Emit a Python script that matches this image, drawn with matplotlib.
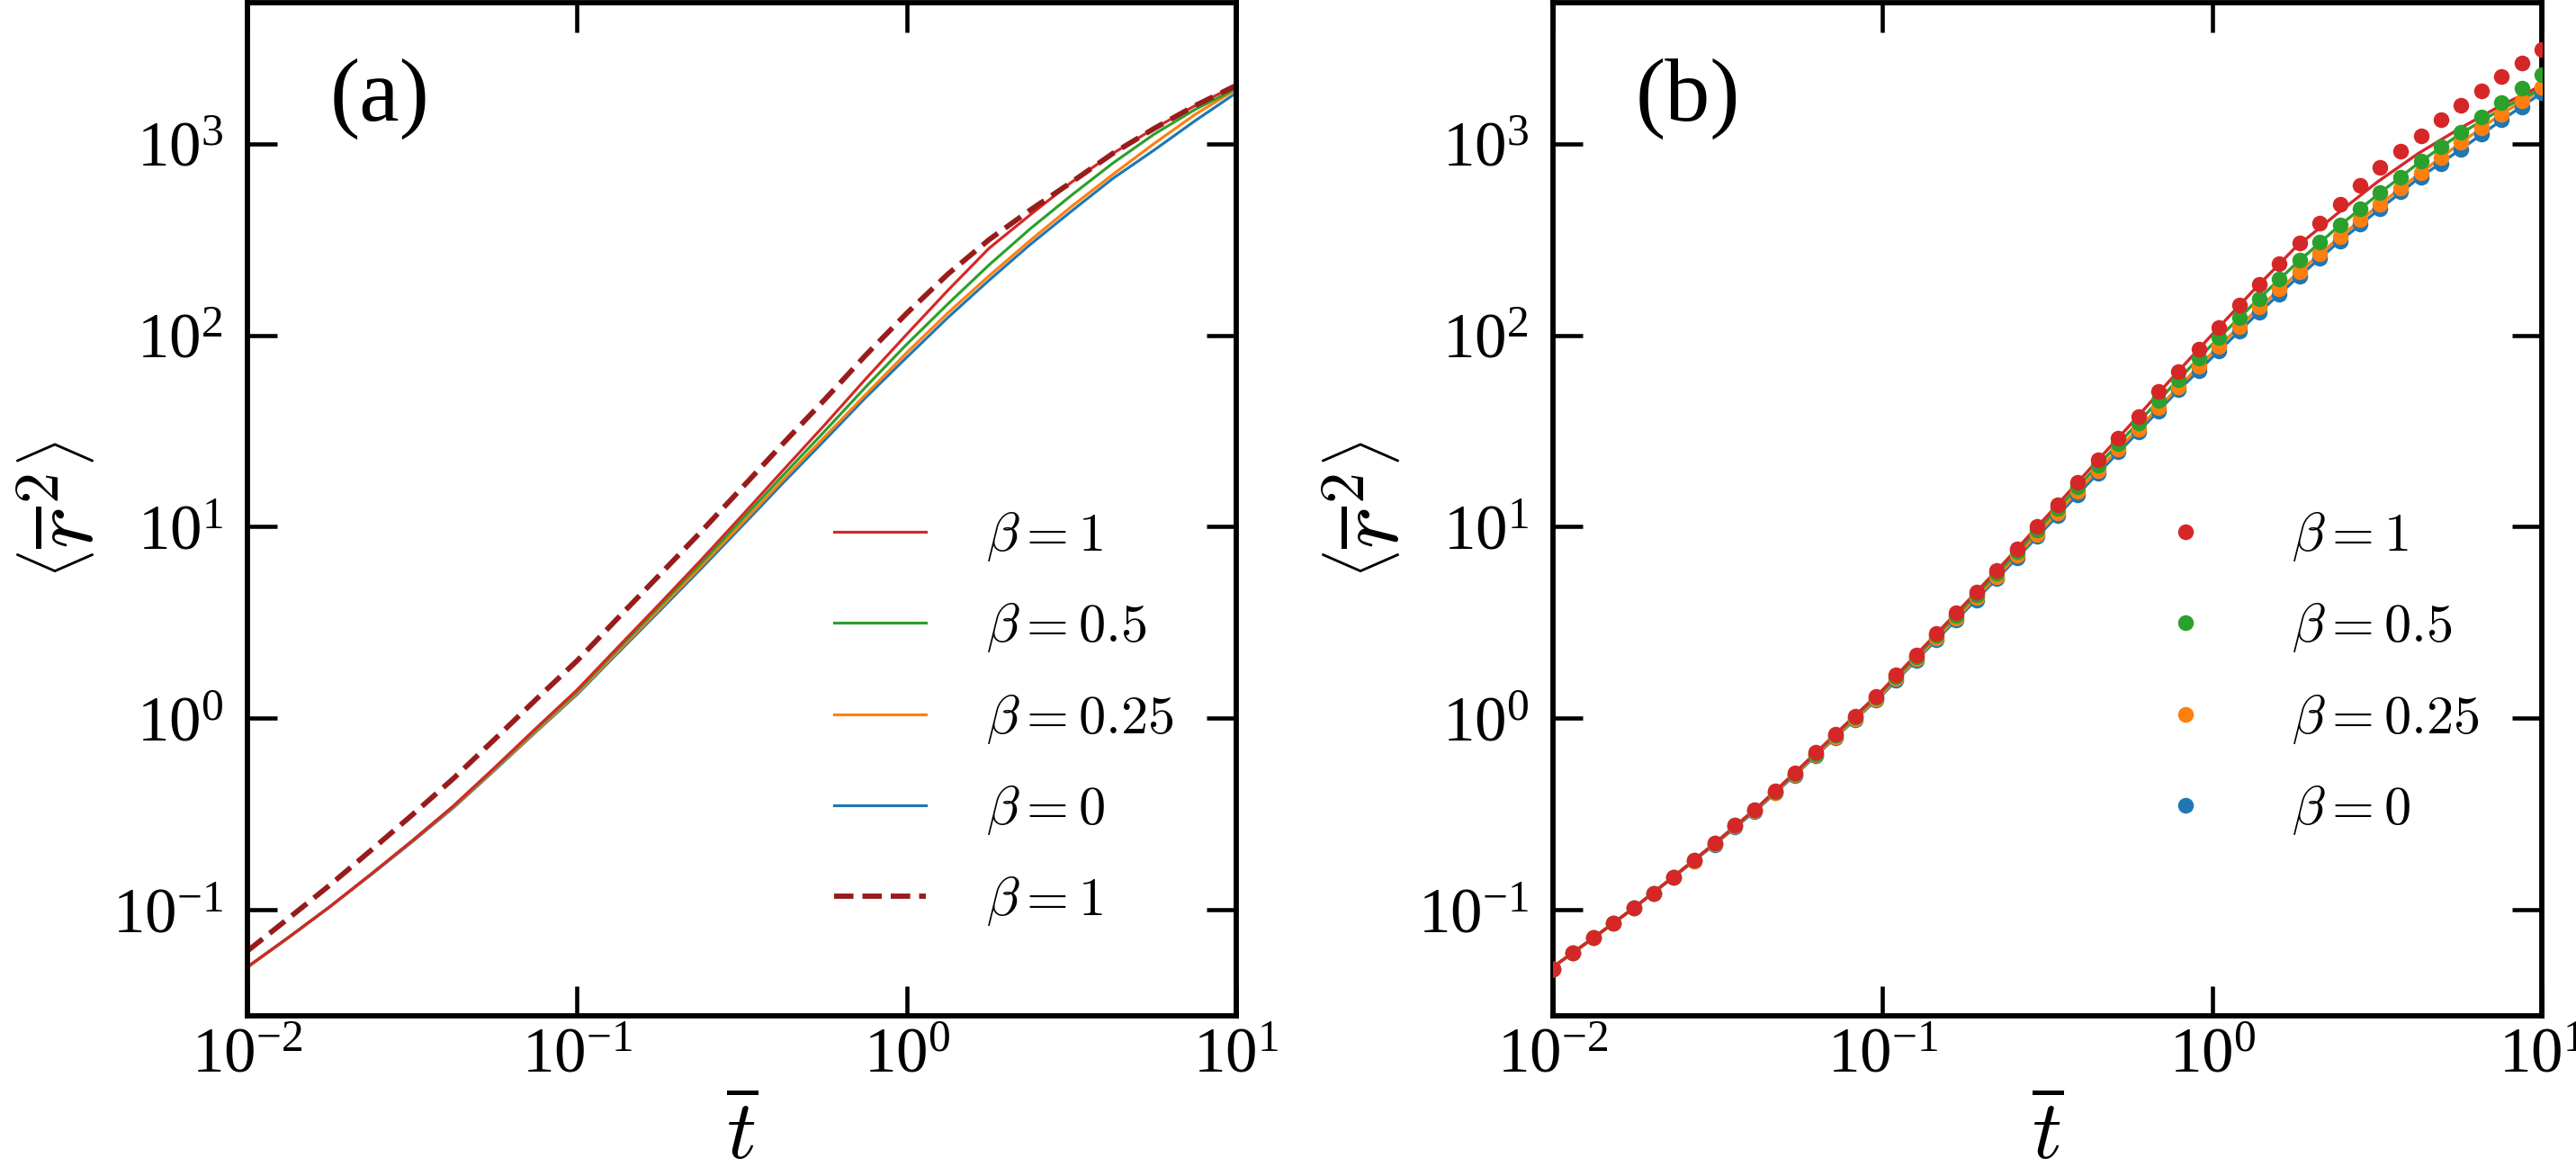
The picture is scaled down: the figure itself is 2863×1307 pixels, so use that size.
import numpy as np
import matplotlib
matplotlib.use('Agg')
import matplotlib.pyplot as plt
from matplotlib.lines import Line2D

plt.rcParams['font.family'] = 'serif'
plt.rcParams['font.serif'] = ['Liberation Serif', 'DejaVu Serif']
plt.rcParams['mathtext.fontset'] = 'cm'

# curves, stored as log10 values
log_t_line = [-2.0, -1.875, -1.75, -1.625, -1.5, -1.375, -1.25, -1.125, -1.0, -0.875, -0.75, -0.625,
              -0.5, -0.375, -0.25, -0.125, 0.0, 0.125, 0.25, 0.375, 0.5, 0.625, 0.75, 0.875, 1.0]
line_b1 = [-1.300, -1.145, -0.985, -0.815, -0.640, -0.458, -0.258, -0.053, 0.148, 0.373, 0.597, 0.824,
           1.058, 1.295, 1.530, 1.771, 2.005, 2.235, 2.455, 2.630, 2.800, 2.950, 3.080, 3.200, 3.306]
line_b05 = [-1.300, -1.145, -0.985, -0.815, -0.641, -0.460, -0.262, -0.059, 0.140, 0.363, 0.585, 0.808,
            1.038, 1.269, 1.497, 1.729, 1.953, 2.164, 2.368, 2.557, 2.732, 2.899, 3.050, 3.180, 3.290]
line_b025 = [-1.300, -1.145, -0.985, -0.815, -0.643, -0.464, -0.268, -0.067, 0.130, 0.351, 0.570, 0.791,
             1.017, 1.245, 1.468, 1.690, 1.909, 2.117, 2.311, 2.496, 2.673, 2.840, 3.001, 3.154, 3.285]
line_b0 = [-1.300, -1.145, -0.985, -0.818, -0.646, -0.468, -0.272, -0.072, 0.124, 0.343, 0.560, 0.779,
           1.003, 1.229, 1.450, 1.674, 1.885, 2.093, 2.288, 2.475, 2.649, 2.819, 2.967, 3.121, 3.267]
line_dash = [-1.216, -1.045, -0.872, -0.690, -0.505, -0.315, -0.110, 0.097, 0.300, 0.525, 0.748, 0.972,
             1.203, 1.435, 1.662, 1.895, 2.115, 2.320, 2.500, 2.655, 2.800, 2.950, 3.080, 3.200, 3.306]

log_t_pts = [-2.0, -1.939, -1.878, -1.816, -1.755, -1.694, -1.633, -1.571, -1.510, -1.449,
             -1.388, -1.327, -1.265, -1.204, -1.143, -1.082, -1.020, -0.959, -0.898, -0.837,
             -0.776, -0.714, -0.653, -0.592, -0.531, -0.469, -0.408, -0.347, -0.286, -0.224,
             -0.163, -0.102, -0.041, 0.020, 0.082, 0.143, 0.204, 0.265, 0.327, 0.388,
             0.449, 0.510, 0.571, 0.633, 0.694, 0.755, 0.816, 0.878, 0.939, 1.0]
pts_b1 = [-1.309, -1.228, -1.148, -1.070, -0.990, -0.916, -0.830, -0.744, -0.654, -0.560,
          -0.478, -0.380, -0.285, -0.180, -0.083, 0.012, 0.116, 0.225, 0.332, 0.443,
          0.551, 0.659, 0.772, 0.886, 1.001, 1.117, 1.232, 1.348, 1.465, 1.577,
          1.706, 1.811, 1.929, 2.043, 2.157, 2.267, 2.376, 2.483, 2.585, 2.687,
          2.784, 2.878, 2.961, 3.044, 3.125, 3.204, 3.279, 3.352, 3.423, 3.494]
pts_b05 = [-1.309, -1.228, -1.148, -1.070, -0.990, -0.916, -0.830, -0.744, -0.654, -0.560,
           -0.480, -0.383, -0.289, -0.185, -0.089, 0.005, 0.108, 0.216, 0.322, 0.432,
           0.539, 0.645, 0.757, 0.869, 0.982, 1.096, 1.208, 1.321, 1.434, 1.543,
           1.660, 1.770, 1.880, 1.989, 2.094, 2.193, 2.295, 2.392, 2.486, 2.577,
           2.663, 2.746, 2.828, 2.909, 2.984, 3.063, 3.141, 3.216, 3.290, 3.363]
pts_b025 = [-1.309, -1.228, -1.148, -1.070, -0.990, -0.916, -0.830, -0.745, -0.657, -0.564,
            -0.484, -0.387, -0.295, -0.192, -0.096, -0.003, 0.099, 0.206, 0.311, 0.420,
            0.525, 0.630, 0.741, 0.851, 0.962, 1.074, 1.184, 1.295, 1.406, 1.512,
            1.621, 1.731, 1.841, 1.943, 2.045, 2.147, 2.241, 2.334, 2.428, 2.514,
            2.605, 2.687, 2.768, 2.851, 2.929, 3.008, 3.086, 3.157, 3.227, 3.298]
pts_b0 = [-1.309, -1.228, -1.148, -1.070, -0.990, -0.917, -0.833, -0.748, -0.660, -0.568,
          -0.488, -0.391, -0.298, -0.196, -0.101, -0.009, 0.093, 0.199, 0.303, 0.410,
          0.515, 0.619, 0.729, 0.838, 0.949, 1.059, 1.169, 1.279, 1.390, 1.496,
          1.606, 1.715, 1.817, 1.919, 2.021, 2.123, 2.217, 2.311, 2.405, 2.494,
          2.580, 2.663, 2.749, 2.825, 2.898, 2.973, 3.050, 3.125, 3.191, 3.267]

labels = [r'$\beta=1$', r'$\beta=0.5$', r'$\beta=0.25$', r'$\beta=0$']
colors = ['tab:red', 'tab:green', 'tab:orange', 'tab:blue']
dash_color = '#981c1c'

t_line = 10.0 ** np.array(log_t_line)
t_pts = 10.0 ** np.array(log_t_pts)
lines = [10.0 ** np.array(v) for v in (line_b1, line_b05, line_b025, line_b0)]
pts = [10.0 ** np.array(v) for v in (pts_b1, pts_b05, pts_b025, pts_b0)]
dash = 10.0 ** np.array(line_dash)

W, H = 2863, 1307
fig = plt.figure(figsize=(W / 300, H / 300), dpi=300)
ax1 = fig.add_axes([275 / W, 178 / H, 1099 / W, 1126 / H])
ax2 = fig.add_axes([1726 / W, 178 / H, 1099 / W, 1126 / H])

leg_kw = dict(loc='upper left', bbox_to_anchor=(0.593, 0.499), frameon=False, fontsize=14.5,
              handlelength=1.7, handletextpad=1.1, labelspacing=0.7, borderpad=0, borderaxespad=0)

# (a)
for y, c in list(zip(lines, colors))[::-1]:
    ax1.plot(t_line, y, color=c, lw=0.75)
ax1.plot(t_line, dash, '--', color=dash_color, lw=1.4, dashes=(3.7, 1.7))
h_a = [Line2D([], [], color=c, lw=0.75) for c in colors]
h_a.append(Line2D([], [], color=dash_color, lw=1.4, ls='--', dashes=(3.7, 1.7)))
ax1.legend(h_a, labels + [r'$\beta=1$'], **leg_kw)

# (b)
for y, c in list(zip(lines, colors))[::-1]:
    ax2.plot(t_line, y, color=c, lw=0.8, zorder=2)
for y, c in list(zip(pts, colors))[::-1]:
    ax2.plot(t_pts, y, 'o', color=c, ms=4.2, mew=0, zorder=3)
h_b = [Line2D([], [], color=c, marker='o', ls='none', ms=4.2, mew=0) for c in colors]
ax2.legend(h_b, labels, **leg_kw)

for ax, tag in ((ax1, '(a)'), (ax2, '(b)')):
    ax.set_xscale('log')
    ax.set_yscale('log')
    ax.set_xlim(1e-2, 1e1)
    ax.set_ylim(10 ** -1.555, 10 ** 3.738)
    ax.set_xticks([1e-2, 1e-1, 1e0, 1e1])
    ax.set_yticks([1e-1, 1e0, 1e1, 1e2, 1e3])
    ax.minorticks_off()
    ax.tick_params(which='major', direction='in', length=8, width=1.1,
                   top=True, right=True, labelsize=17)
    ax.tick_params(axis='x', pad=3)
    ax.tick_params(axis='y', pad=6.5)
    for s in ax.spines.values():
        s.set_linewidth(1.4)
    ax.set_xlabel(r'$\overline{t}$', fontsize=22)
    ax.set_ylabel(r'$\left\langle\overline{r}^2\right\rangle$', fontsize=24)
    ax.xaxis.set_label_coords(0.5, -0.082)
    ax.yaxis.set_label_coords(-0.136, 0.5)
    ax.text(0.083, 0.905, tag, transform=ax.transAxes, fontsize=24, va='center', ha='left')

fig.savefig('out.png', dpi=300)
